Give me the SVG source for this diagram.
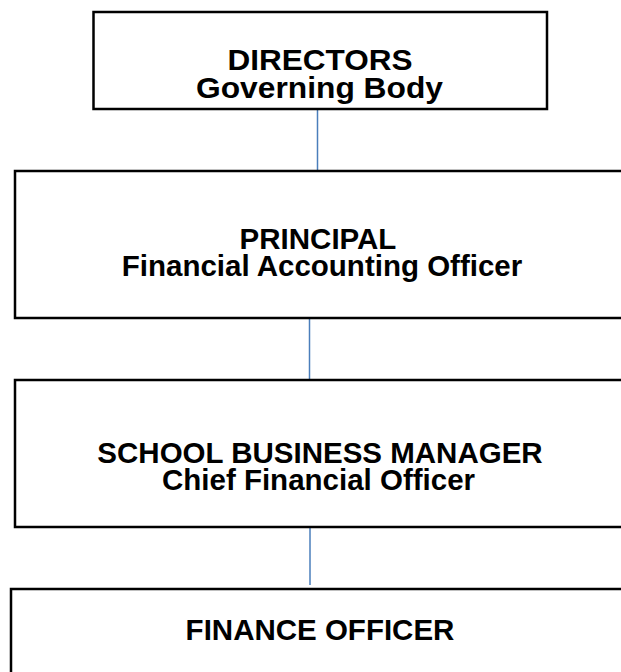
<svg xmlns="http://www.w3.org/2000/svg" width="621" height="672" viewBox="0 0 621 672">
<style>
.box{fill:#ffffff;stroke:#000000;stroke-width:2.5}
.t{font-family:"Liberation Sans",Arial,sans-serif;font-weight:bold;font-size:29.5px;fill:#000000;text-anchor:middle}
.c{stroke:#4a7ebb;stroke-width:1.5;fill:none}
</style>
<rect x="0" y="0" width="621" height="672" fill="#ffffff"/>
<g id="connectors">
<line class="c" x1="317.5" y1="110" x2="317.5" y2="171"/>
<line class="c" x1="309.5" y1="318" x2="309.5" y2="380"/>
<line class="c" x1="310" y1="526" x2="310" y2="585"/>
</g>
<g id="directors">
<rect class="box" x="93.5" y="12" width="453.5" height="97" stroke-width="2"/>
<text class="t" x="320" y="69.5" font-size="27" textLength="185" lengthAdjust="spacingAndGlyphs">DIRECTORS</text>
<text class="t" x="319.5" y="98" font-size="27" textLength="247" lengthAdjust="spacingAndGlyphs">Governing Body</text>
</g>
<g id="principal">
<rect class="box" x="15" y="171" width="620" height="147"/>
<text class="t" x="318" y="248.5">PRINCIPAL</text>
<text class="t" x="322" y="275.5">Financial Accounting Officer</text>
</g>
<g id="sbm">
<rect class="box" x="15" y="380" width="620" height="147"/>
<text class="t" x="320" y="462.5">SCHOOL BUSINESS MANAGER</text>
<text class="t" x="318.5" y="489.5">Chief Financial Officer</text>
</g>
<g id="finance">
<rect class="box" x="11" y="589" width="620" height="120"/>
<text class="t" x="320" y="639.5">FINANCE OFFICER</text>
</g>
</svg>
